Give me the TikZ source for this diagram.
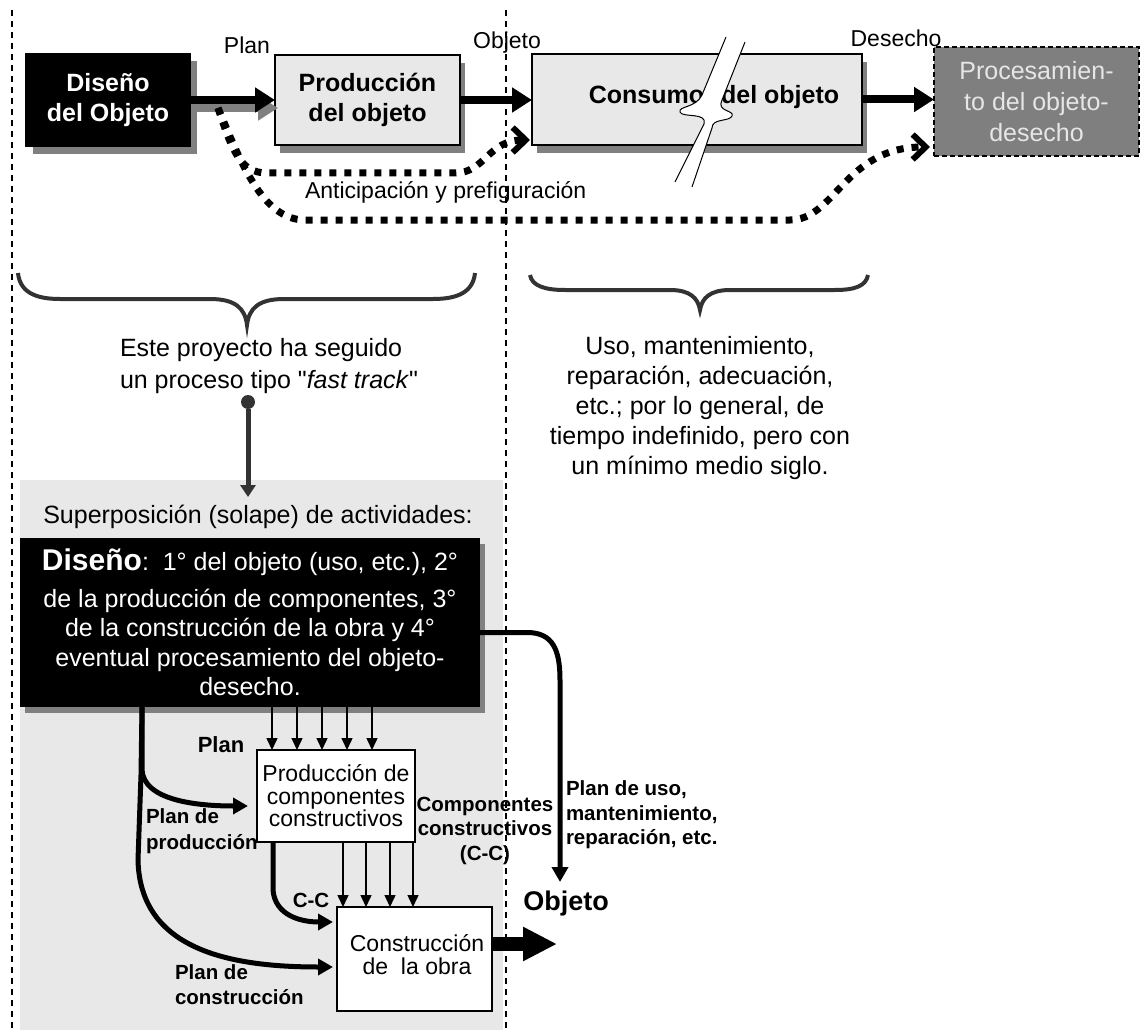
\documentclass[tikz,border=0pt]{standalone}
\usepackage{fontspec}
\setmainfont{Liberation Sans}[Ligatures=TeXOff]
\usetikzlibrary{arrows.meta,shadows,calc}
\definecolor{lgray}{HTML}{E8E8E8}
\definecolor{shgray}{HTML}{808080}
\definecolor{dgray}{HTML}{333333}
\definecolor{pgray}{HTML}{7F7F7F}
\definecolor{ptext}{HTML}{E6E6E6}
\begin{document}
\begin{tikzpicture}[x=1pt,y=-1pt,
 every node/.style={outer sep=0pt,inner sep=0pt},
 boxtext/.style={font=\fontsize{25}{30}\selectfont\bfseries, align=center},
 topbox/.style={draw, line width=1.8pt, boxtext},
 harrow/.style={line width=8pt, -{Triangle[length=20pt,width=24pt]}},
 dotline/.style={line width=7pt, dash pattern=on 7pt off 8pt, -{Straight Barb[length=13pt,width=25pt,line width=6pt]}},
 vdash/.style={line width=1.3pt, dash pattern=on 6pt off 5pt},
 bracestyle/.style={line width=4pt, dgray},
 thinarrow/.style={line width=1.5pt, -{Triangle[length=12pt,width=11pt]}},
 curvearrow/.style={line width=5pt, -{Triangle[length=15pt,width=16pt]}},
 lbl/.style={font=\fontsize{20.5}{24.5}\selectfont\bfseries, align=left},
 small/.style={font=\fontsize{23}{28}\selectfont},
]
\useasboundingbox (0,0) rectangle (1141,1030);

% grey panel and separators
\fill[lgray] (20,480) rectangle (503,1030);
\draw[vdash] (12,10) -- (12,1030);
\draw[vdash] (506,10) -- (506,1030);

% top row
\node[topbox, fill=black, text=white, minimum width=164pt, minimum height=93pt,
  drop shadow={shadow xshift=7pt,shadow yshift=-8pt,fill=shgray,opacity=1}] (dis) at (108,100) {Diseño\\del Objeto};
\node[topbox, fill=lgray, minimum width=185pt, minimum height=90pt,
  drop shadow={shadow xshift=5pt,shadow yshift=-8pt,fill=shgray,opacity=1}] (prod) at (367.5,100) {Producción\\del objeto};
\node[draw, line width=1.8pt, fill=lgray, minimum width=330pt, minimum height=91pt,
  drop shadow={shadow xshift=5pt,shadow yshift=-8pt,fill=shgray,opacity=1}] (cons) at (697,99.5) {};
\node[boxtext] (constxt) at (714,97) {Consumo\hspace{17pt}del objeto};
\node[draw, line width=1.5pt, dash pattern=on 5pt off 3pt, fill=pgray, text=ptext,
  minimum width=205pt, minimum height=109pt, font=\fontsize{25}{31}\selectfont, align=center] (proc) at (1036.5,101.5) {Procesamien-\\to del objeto-\\desecho};

% break mark
\fill[white] (726,37) -- (702,95) .. controls (696,108) and (678,106) .. (680,112) .. controls (682,118) and (708,112) .. (704,124) -- (675,182) -- (692,187) -- (712,128) .. controls (712,118) and (729,122) .. (732,116) .. controls (735,110) and (716,112) .. (722,100) -- (745,42) -- cycle;
\draw[line width=1pt] (726,37) -- (702,95) .. controls (696,108) and (678,106) .. (680,112) .. controls (682,118) and (708,112) .. (704,124) -- (675,182);
\draw[line width=1pt] (745,42) -- (722,100) .. controls (716,112) and (735,110) .. (732,116) .. controls (729,122) and (712,118) .. (712,128) -- (692,187);

% top labels
\node[small] (lplan) at (247,45) {Plan};
\node[small] (lobj) at (507,43) {Objeto};
\node[small] (ldes) at (896,38) {Desecho};

% top arrows
\draw[harrow, shgray, transform canvas={shift={(3pt,-8pt)}}] (dis.east) -- (prod.west);
\draw[harrow] (dis.east) -- (prod.west);
\draw[harrow] (prod.east) -- (prod.east -| cons.west);
\draw[harrow] (cons.east) -- (cons.east -| proc.west);

% dotted anticipation arrows
\coordinate (dstart) at (218,108);
\coordinate (tipA) at (530,140);
\coordinate (tipB) at (930,147);
\draw[dotline] (dstart) .. controls (232,150) and (240,173) .. (267,173) -- (455,173) .. controls (485,173) and (488,140) .. (tipA);
\draw[dotline] (dstart) .. controls (240,160) and (262,220) .. (305,220) -- (790,220) .. controls (835,220) and (845,147) .. (tipB);
\node[small, anchor=west] (antic) at (305,192) {Anticipación y prefiguración};

% braces
\draw[bracestyle] (18,273) .. controls (20,292) and (35,299) .. (60,299) -- (210,299) .. controls (235,299) and (245,308) .. (247,325) .. controls (249,308) and (259,299) .. (284,299) -- (433,299) .. controls (458,299) and (473,292) .. (475,273);
\draw[bracestyle] (530,275) .. controls (532,286) and (545,290) .. (565,290) -- (670,290) .. controls (690,290) and (698,298) .. (700,310) .. controls (702,298) and (710,290) .. (730,290) -- (835,290) .. controls (855,290) and (866,286) .. (868,275);

\node[font=\fontsize{25}{32}\selectfont, align=left, anchor=west] (fast) at (120,366) {Este proyecto ha seguido\\un proceso tipo "\textit{fast track}"};
\node[font=\fontsize{25}{30.2}\selectfont, align=center] (uso) at (700,408) {Uso, mantenimiento,\\reparación, adecuación,\\etc.; por lo general, de\\tiempo indefinido, pero con\\un mínimo medio siglo.};

% dot connector
\node[circle, fill=dgray, minimum size=14pt] (dot) at (248,402) {};
\coordinate (suptip) at (248,497);
\draw[dgray, line width=5pt, -{Triangle[length=12pt,width=15pt]}] (dot) -- (suptip);

\node[font=\fontsize{25}{30}\selectfont] (sup) at (258,517) {Superposición (solape) de actividades:};

% design box (bottom)
\node[fill=black, text=white, minimum width=460pt, minimum height=169pt, align=center,
  font=\fontsize{25}{29.5}\selectfont,
  drop shadow={shadow xshift=5pt,shadow yshift=-6pt,fill=shgray,opacity=1}] (dis2) at (250,622.5)
  {{\fontsize{30}{36}\selectfont\bfseries Diseño}:\ \ 1° del objeto (uso, etc.), 2°\\[7pt]de la producción de componentes, 3°\\de la construcción de la obra y 4°\\eventual procesamiento del objeto-\\desecho.};

% lower boxes
\node[draw, fill=white, line width=1.5pt, minimum width=158pt, minimum height=92pt,
  font=\fontsize{23}{22.5}\selectfont, align=center] (pcomp) at (336,796) {Producción de\\componentes\\constructivos};
\node[draw, fill=white, line width=1.5pt, minimum width=155pt, minimum height=104pt] (constr) at (414.5,959) {};
\node[font=\fontsize{23}{23}\selectfont, align=center] (constrtxt) at (417,954.5) {Construcción\\de\ \ la obra};

% thin arrows
\foreach \x in {272,297,322,347,372} \draw[thinarrow] (dis2.south -| \x,0) -- (pcomp.north -| \x,0);
\foreach \x in {343,366,390,413} \draw[thinarrow] (pcomp.south -| \x,0) -- (constr.north -| \x,0);

% thick curved arrows
\coordinate (tipPP) at (248,806);
\coordinate (tipPC) at (333,967);
\coordinate (tipCC) at (333,922);
\coordinate (tipUso) at (560,882);
\coordinate (tipObj) at (557,944);
\draw[curvearrow] (dis2.south -| 142,0) -- (142,770) .. controls (144,800) and (195,806) .. (tipPP);
\draw[curvearrow] (dis2.south -| 142,0) -- (141,775) -- (138,860) .. controls (140,950) and (230,967) .. (tipPC);
\draw[curvearrow] (pcomp.south -| 273,0) -- (273,890) .. controls (275,915) and (300,922) .. (tipCC);
\draw[curvearrow] ($(dis2.east)+(0,10)$) -- (527,632.5) .. controls (553,632.5) and (560,650) .. (560,680) -- (tipUso);
\draw[line width=14pt, -{Triangle[length=34pt,width=32pt]}] (constr.east |- 0,944) -- (tipObj);

% labels
\node[font=\fontsize{22}{26}\selectfont\bfseries] (lplan2) at (221,745) {Plan};
\node[lbl, font=\fontsize{20.5}{26}\selectfont\bfseries, anchor=west] (lpp) at (146,831.5) {Plan de\\producción};
\node[lbl] (lcc) at (311,900) {C-C};
\node[lbl, font=\fontsize{20.5}{25}\selectfont\bfseries, anchor=west] (lpc) at (175,984.5) {Plan de\\construcción};
\node[lbl, align=center] (lcomp) at (485,830.5) {Componentes\\constructivos\\(C-C)};
\node[lbl, anchor=west] (luso) at (566,815) {Plan de uso,\\mantenimiento,\\reparación, etc.};
\node[font=\fontsize{27}{30}\selectfont\bfseries] (lobj2) at (566,904) {Objeto};
\end{tikzpicture}
\end{document}
